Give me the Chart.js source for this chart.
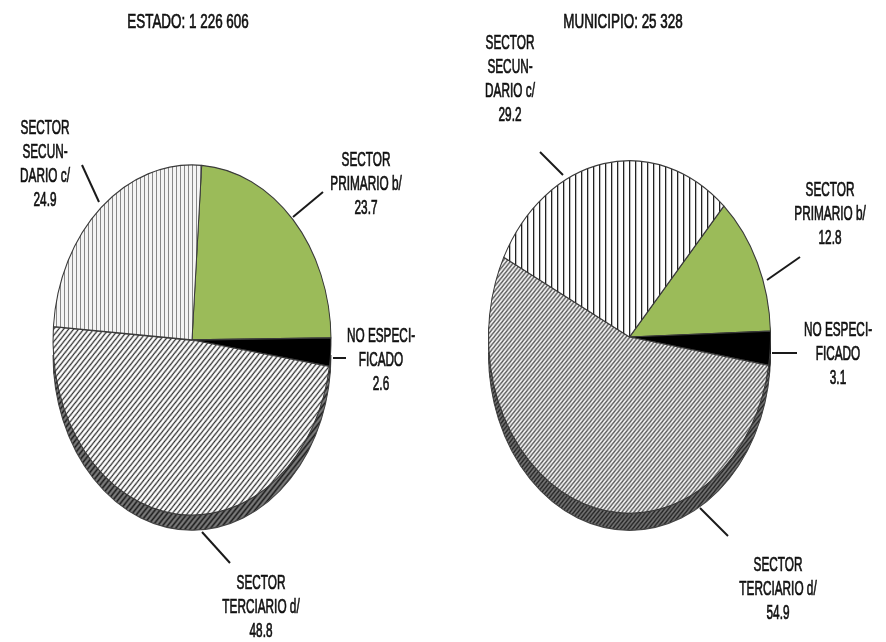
<!DOCTYPE html>
<html>
<head>
<meta charset="utf-8">
<script src="https://cdn.jsdelivr.net/npm/chart.js@4.4.1/dist/chart.umd.min.js"></script>
<style>
  body { margin: 0; background: #fff; }
  #contenedor { position: relative; width: 886px; height: 642px; }
  .grafico { position: absolute; top: 0; width: 443px; height: 642px; }
</style>
</head>
<body>
<div id="contenedor">
  <div class="grafico" style="left:0"><canvas id="grafico_estado"></canvas></div>
  <div class="grafico" style="left:443px"><canvas id="grafico_municipio"></canvas></div>
</div>
<script>
// datos
const categorias = ['SECTOR PRIMARIO b/', 'NO ESPECIFICADO', 'SECTOR TERCIARIO d/', 'SECTOR SECUNDARIO c/'];
const lineasCategorias = [
  ['SECTOR', 'PRIMARIO b/'],
  ['NO ESPECI-', 'FICADO'],
  ['SECTOR', 'TERCIARIO d/'],
  ['SECTOR', 'SECUN-', 'DARIO c/'],
];
const valoresEstado = [23.7, 2.6, 48.8, 24.9];
const valoresMunicipio = [12.8, 3.1, 54.9, 29.2];
const tituloEstado = 'ESTADO: 1 226 606';
const tituloMunicipio = 'MUNICIPIO: 25 328';

// fuente normal comprimida a lo ancho (parecida a Arial Narrow)
const FUENTE = '"Liberation Sans", Arial, sans-serif';
const anchoTitulo = 0.64, anchoEtiqueta = 0.59;

function rayasVerticales(fondo, linea, paso, grosor) {
  const c = document.createElement('canvas');
  c.width = paso; c.height = paso;
  const g = c.getContext('2d');
  g.fillStyle = fondo; g.fillRect(0, 0, paso, paso);
  g.fillStyle = linea; g.fillRect(0, 0, grosor, paso);
  return g.createPattern(c, 'repeat');
}

function rayasDiagonales(fondo, linea, paso, grosor) {
  const c = document.createElement('canvas');
  c.width = paso; c.height = paso;
  const g = c.getContext('2d');
  g.fillStyle = fondo; g.fillRect(0, 0, paso, paso);
  g.strokeStyle = linea; g.lineWidth = grosor;
  g.beginPath();
  g.moveTo(-1, paso + 1); g.lineTo(paso + 1, -1);
  g.moveTo(-1, 1); g.lineTo(1, -1);
  g.moveTo(paso - 1, paso + 1); g.lineTo(paso + 1, paso - 1);
  g.stroke();
  return g.createPattern(c, 'repeat');
}

function trazarSector(ctx, arc, dy) {
  const p = arc.getProps(['x', 'y', 'startAngle', 'endAngle', 'outerRadius'], true);
  ctx.beginPath();
  ctx.moveTo(p.x, p.y + dy);
  ctx.arc(p.x, p.y + dy, p.outerRadius, p.startAngle, p.endAngle);
  ctx.closePath();
}

// pastel "3D": estira en vertical y dibuja el canto
const pastel3D = {
  id: 'pastel3D',
  beforeDatasetsDraw(chart, args, opts) {
    const meta = chart.getDatasetMeta(0);
    const { x, y } = meta.data[0];
    const k = opts.escalaY;
    const ctx = chart.ctx;
    ctx.save();
    ctx.translate(x, y);
    ctx.scale(1, k);
    ctx.translate(-x, -y);
    for (let d = opts.profundidad; d >= 1; d -= 0.5) {
      meta.data.forEach((arc, i) => {
        trazarSector(ctx, arc, d / k);
        ctx.fillStyle = opts.cantos[i];
        ctx.fill();
      });
    }
    ctx.beginPath();
    ctx.arc(x, y + opts.profundidad / k, meta.data[0].outerRadius, 0, Math.PI);
    ctx.strokeStyle = '#444';
    ctx.lineWidth = 1;
    ctx.stroke();
    ctx.restore();

    ctx.save();
    ctx.translate(x, y);
    ctx.scale(1, k);
    ctx.translate(-x, -y);
  },
  afterDatasetsDraw(chart) {
    chart.ctx.restore();
  }
};

function texto(ctx, t, x, y, ancho) {
  ctx.save();
  ctx.translate(x, y);
  ctx.scale(ancho, 1);
  ctx.fillText(t, 0, 0);
  ctx.strokeText(t, 0, 0);
  ctx.restore();
}

// textos y lineas guia
const etiquetas = {
  id: 'etiquetas',
  afterDraw(chart, args, opts) {
    const ctx = chart.ctx;
    const valores = chart.data.datasets[0].data;
    ctx.save();
    ctx.fillStyle = '#111';
    ctx.textAlign = 'center';
    ctx.textBaseline = 'middle';

    ctx.strokeStyle = '#111';
    ctx.lineWidth = 0.7;
    ctx.font = '21px ' + FUENTE;
    texto(ctx, opts.titulo.texto, opts.titulo.x, opts.titulo.y, anchoTitulo);

    ctx.font = '20px ' + FUENTE;
    opts.posiciones.forEach((pos, i) => {
      const lineas = lineasCategorias[i].concat(valores[i].toFixed(1));
      ctx.strokeStyle = '#111';
      ctx.lineWidth = 0.7;
      lineas.forEach((t, j) => texto(ctx, t, pos.x, pos.y + j * 24, anchoEtiqueta));

      ctx.beginPath();
      ctx.moveTo(pos.guia[0], pos.guia[1]);
      ctx.lineTo(pos.guia[2], pos.guia[3]);
      ctx.strokeStyle = '#1a1a1a';
      ctx.lineWidth = 2;
      ctx.stroke();
    });
    ctx.restore();
  }
};

function creaPastel(id, valores, rotacion, padding, estilos, pluginsOpts) {
  return new Chart(document.getElementById(id), {
    type: 'pie',
    data: {
      labels: categorias,
      datasets: [{
        data: valores,
        backgroundColor: estilos.relleno,
        borderColor: '#3a3a3a',
        borderWidth: 1,
        radius: estilos.radio,
        clip: false,
      }]
    },
    options: {
      responsive: true,
      maintainAspectRatio: false,
      animation: false,
      rotation: rotacion,
      layout: { padding: padding },
      plugins: {
        legend: { display: false },
        tooltip: { enabled: false },
        pastel3D: pluginsOpts.pastel3D,
        etiquetas: pluginsOpts.etiquetas,
      }
    },
    plugins: [pastel3D, etiquetas]
  });
}

const verde = '#9bbb59';

creaPastel('grafico_estado', valoresEstado, 4,
  { left: 52, right: 111, top: 200, bottom: 162 },
  {
    radio: 139,
    relleno: [verde, '#000', rayasDiagonales('#fff', '#2a2a2a', 5, 1.2), rayasVerticales('#f4f4f4', '#888', 4, 1)],
  },
  {
    pastel3D: {
      escalaY: 1.26, profundidad: 15,
      cantos: ['#6f8a3a', '#000', rayasDiagonales('#7a7a7a', '#1a1a1a', 5, 1.4), rayasVerticales('#999', '#555', 4, 1)],
    },
    etiquetas: {
      titulo: { texto: tituloEstado, x: 188, y: 22 },
      posiciones: [
        { x: 366, y: 160, guia: [293, 217, 323, 192] },
        { x: 381, y: 336, guia: [333, 358, 346, 358] },
        { x: 261, y: 583, guia: [202, 532, 230, 563] },
        { x: 45, y: 128, guia: [82, 165, 99, 202] },
      ]
    }
  });

creaPastel('grafico_municipio', valoresMunicipio, 42,
  { left: 46, right: 116, top: 197, bottom: 165 },
  {
    radio: 141,
    relleno: [verde, '#000', rayasDiagonales('#fff', '#555', 4, 1.3), rayasVerticales('#fff', '#222', 6, 1.3)],
  },
  {
    pastel3D: {
      escalaY: 1.25, profundidad: 17,
      cantos: ['#6f8a3a', '#000', rayasDiagonales('#7a7a7a', '#222', 4, 1.3), rayasVerticales('#999', '#444', 6, 1.3)],
    },
    etiquetas: {
      titulo: { texto: tituloMunicipio, x: 180, y: 22 },
      posiciones: [
        { x: 387, y: 190, guia: [324, 280, 357, 257] },
        { x: 395, y: 330, guia: [329, 353, 354, 353] },
        { x: 335, y: 565, guia: [257, 508, 285, 536] },
        { x: 67, y: 43, guia: [97, 152, 120, 175] },
      ]
    }
  });
</script>
</body>
</html>
